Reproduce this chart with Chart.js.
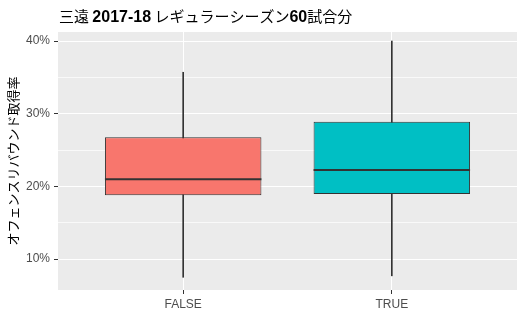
<!DOCTYPE html>
<html>
<head>
<meta charset="utf-8">
<script src="https://cdn.jsdelivr.net/npm/chart.js@4.4.0/dist/chart.umd.min.js"></script>
<style>
html, body { margin: 0; padding: 0; background: #fff; }
</style>
</head>
<body>
<canvas id="c" width="525" height="334"></canvas>
<script>
var groups = ['FALSE', 'TRUE'];
var lowWhisker = [7.5, 7.7];
var q1 = [18.8, 18.95];
var median = [21.0, 22.25];
var q3 = [26.75, 28.9];
var highWhisker = [35.7, 40.0];
var fills = ['#F8766D', '#00BFC4'];
var majorTicks = [10, 20, 30, 40];
var minorTicks = [15, 25, 35];
var titleText = '三遠 2017-18 レギュラーシーズン60試合分';
var yTitle = 'オフェンスリバウンド取得率';

function isMajor(v) {
    return majorTicks.indexOf(v) >= 0;
}

// panel background, like ggplot's grey theme
var panelPlugin = {
    id: 'panel',
    beforeDraw: function(chart) {
        var ctx = chart.ctx, a = chart.chartArea;
        ctx.save();
        ctx.fillStyle = '#FFFFFF';
        ctx.fillRect(0, 0, chart.width, chart.height);
        ctx.fillStyle = '#EBEBEB';
        ctx.fillRect(a.left, a.top, a.right - a.left, a.bottom - a.top);
        ctx.restore();
    }
};

// median bars on top of the boxes
var medianPlugin = {
    id: 'medians',
    afterDatasetsDraw: function(chart) {
        var ctx = chart.ctx;
        var xs = chart.scales.x, ys = chart.scales.y;
        ctx.save();
        ctx.strokeStyle = '#333333';
        ctx.lineWidth = 2;
        for (var i = 0; i < groups.length; i++) {
            var y = ys.getPixelForValue(median[i]);
            ctx.beginPath();
            ctx.moveTo(xs.getPixelForValue(i + 1 - 0.375), y);
            ctx.lineTo(xs.getPixelForValue(i + 1 + 0.375), y);
            ctx.stroke();
        }
        ctx.restore();
    }
};

// titles: digits in bold Latin, the rest in the CJK face
var titlePlugin = {
    id: 'titles',
    afterDraw: function(chart) {
        var ctx = chart.ctx, a = chart.chartArea;
        ctx.save();
        ctx.fillStyle = '#000000';
        ctx.textBaseline = 'alphabetic';
        var parts = titleText.split(/([0-9\-]+)/);
        var x = a.left + 1;
        for (var i = 0; i < parts.length; i++) {
            if (!parts[i]) continue;
            if (/^[0-9\-]+$/.test(parts[i])) {
                ctx.font = 'bold 16px "Liberation Sans"';
            } else {
                ctx.font = '15px "Noto Sans CJK JP"';
            }
            ctx.fillText(parts[i], x, 22);
            x += ctx.measureText(parts[i]).width;
        }

        ctx.translate(13, (a.top + a.bottom) / 2);
        ctx.rotate(-Math.PI / 2);
        ctx.textAlign = 'center';
        ctx.textBaseline = 'middle';
        ctx.font = '13px "Noto Sans CJK JP"';
        ctx.fillText(yTitle, 0, 0);
        ctx.restore();
    }
};

var boxData = [], whiskerData = [];
for (var i = 0; i < groups.length; i++) {
    boxData.push({x: i + 1, y: [q1[i], q3[i]]});
    whiskerData.push({x: i + 1, y: [lowWhisker[i], highWhisker[i]]});
}

Chart.defaults.font.family = '"Liberation Sans", Arial, sans-serif';

new Chart(document.getElementById('c'), {
    type: 'bar',
    data: {
        datasets: [{
            data: boxData,
            backgroundColor: fills,
            borderColor: '#333333',
            borderWidth: 1,
            borderSkipped: false,
            grouped: false,
            barPercentage: 0.75,
            categoryPercentage: 1
        }, {
            data: whiskerData,
            backgroundColor: '#333333',
            borderWidth: 0,
            grouped: false,
            barThickness: 1
        }]
    },
    options: {
        responsive: false,
        animation: false,
        devicePixelRatio: 1,
        layout: { padding: { left: 0, right: 8, top: 32, bottom: 0 } },
        plugins: { legend: { display: false }, tooltip: { enabled: false } },
        scales: {
            x: {
                type: 'linear',
                min: 0.4,
                max: 2.6,
                offset: false,
                afterBuildTicks: function(scale) {
                    scale.ticks = groups.map(function(g, i) { return {value: i + 1}; });
                },
                afterFit: function(scale) { scale.height = 44; },
                grid: { color: '#FFFFFF', lineWidth: 1, offset: false, tickLength: 4, tickColor: '#333333' },
                border: { display: false },
                ticks: {
                    autoSkip: false,
                    maxRotation: 0,
                    padding: 3,
                    color: '#4D4D4D',
                    font: { size: 12 },
                    callback: function(v) { return groups[v - 1]; }
                }
            },
            y: {
                min: 5.75,
                max: 41.24,
                afterBuildTicks: function(scale) {
                    scale.ticks = majorTicks.concat(minorTicks)
                        .sort(function(a, b) { return a - b; })
                        .map(function(v) { return {value: v}; });
                },
                afterFit: function(scale) { scale.width = 58; },
                grid: {
                    color: '#FFFFFF',
                    lineWidth: function(c) { return isMajor(c.tick.value) ? 1 : 0.7; },
                    tickLength: 4,
                    tickColor: function(c) { return isMajor(c.tick.value) ? '#333333' : 'rgba(0,0,0,0)'; }
                },
                border: { display: false },
                ticks: {
                    autoSkip: false,
                    padding: 4,
                    color: '#4D4D4D',
                    font: { size: 12 },
                    callback: function(v) { return isMajor(v) ? v + '%' : ''; }
                }
            }
        }
    },
    plugins: [panelPlugin, medianPlugin, titlePlugin]
});
</script>
</body>
</html>
